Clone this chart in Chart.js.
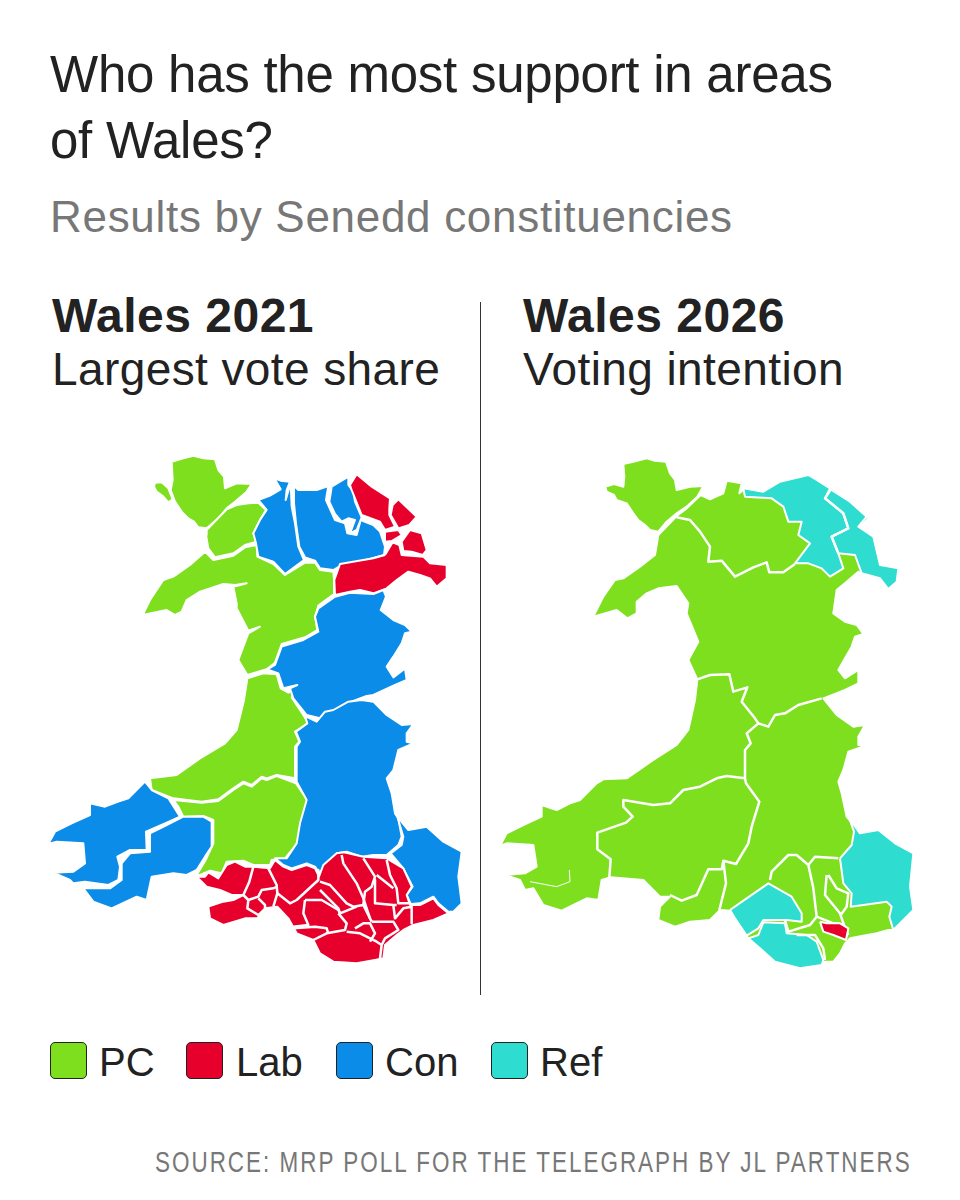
<!DOCTYPE html>
<html>
<head>
<meta charset="utf-8">
<title>Wales</title>
<script src="https://cdn.jsdelivr.net/npm/chart.js@4"></script>
<style>
  html, body { margin: 0; padding: 0; background: #fff; }
  #page { position: relative; width: 960px; height: 1200px; overflow: hidden; font-family: "Liberation Sans", Arial, sans-serif; color: #222; }
  #page span, #page div { position: absolute; white-space: nowrap; }
  canvas { position: absolute; top: 400px; }
  #mapLeft { left: 0; }
  #mapRight { left: 480px; }
  .title { font-size: 51px; line-height: 60px; left: 50px; letter-spacing: -0.25px; }
  .sub { font-size: 44px; line-height: 50px; left: 50px; top: 192px; color: #777; letter-spacing: 0.7px; }
  .head { font-size: 48px; line-height: 50px; font-weight: bold; top: 291px; letter-spacing: 0.5px; }
  .desc { font-size: 46px; line-height: 50px; top: 344px; letter-spacing: 0.4px; }
  .swatch { width: 35px; height: 35px; top: 1042px; border: 1.5px solid #222; border-radius: 5px; }
  .key { font-size: 40px; line-height: 44px; top: 1040px; }
  #source { right: 48px; top: 1146px; font-size: 29px; line-height: 32px; letter-spacing: 2.6px; color: #777; transform: scaleX(0.774); transform-origin: right center; }
  #divider { left: 479.5px; top: 302px; width: 1.5px; height: 693px; background: #333; }
</style>
</head>
<body>
<div id="page">
  <span class="title" style="top:45px">Who has the most support in areas</span>
  <span class="title" style="top:111px">of Wales?</span>
  <span class="sub">Results by Senedd constituencies</span>
  <span class="head" style="left:52px">Wales 2021</span>
  <span class="desc" style="left:52px">Largest vote share</span>
  <span class="head" style="left:523px">Wales 2026</span>
  <span class="desc" style="left:523px">Voting intention</span>
  <canvas id="mapLeft" width="480" height="600"></canvas>
  <canvas id="mapRight" width="480" height="600"></canvas>
  <div id="divider"></div>
  <div id="legend"></div>
  <span id="source">SOURCE: MRP POLL FOR THE TELEGRAPH BY JL PARTNERS</span>
</div>
<script>
const parties = ['PC', 'Lab', 'Con', 'Ref'];
const partyColours = ['#7ddf1e', '#e8002d', '#0a8ce8', '#2edcd0'];

// outlines, flat x,y pairs in map units (1/3 of a pixel)
// 2021 map
const lAnglesey = [395,65, 430,55, 460,47, 490,55, 525,58, 535,90, 552,110, 555,145, 590,130, 635,132, 620,155, 585,185, 560,205, 535,235, 500,265, 475,262, 462,245, 445,235, 425,215, 405,185, 392,150, 398,120];
const lHoly = [345,128, 365,127, 385,145, 398,178, 385,187, 370,170, 350,155, 342,140];
const lBardsey = [287,550, 295,537, 296,547];
const lArfon = [498,285, 500,270, 560,208, 590,195, 625,190, 655,188, 678,210, 660,240, 640,280, 650,305, 615,315, 580,340, 525,352, 505,325];
const lDwyfor = [495,335, 520,360, 580,347, 615,322, 650,315, 652,350, 700,372, 735,405, 795,368, 825,368, 840,390, 880,395, 882,420, 882,462, 835,497, 825,530, 832,570, 795,592, 725,612, 705,668, 680,688, 622,705, 595,660, 610,620, 625,580, 660,560, 625,572, 590,505, 590,490, 580,440, 620,430, 585,435, 550,432, 480,455, 440,480, 425,515, 405,525, 380,510, 308,525, 330,480, 370,420, 400,410, 450,375];
const lCeredigion = [622,715, 670,700, 710,703, 722,745, 745,758, 768,745, 755,772, 790,825, 805,850, 765,875, 778,905, 765,920, 765,1015, 710,1005, 680,1015, 665,1010, 635,1035, 610,1025, 580,1045, 535,1078, 485,1085, 400,1075, 335,1050, 330,1015, 410,1005, 480,955, 555,910, 590,870, 612,780];
const lCarmEast = [400,1080, 485,1088, 535,1083, 580,1050, 610,1030, 635,1040, 665,1015, 680,1020, 710,1008, 768,1030, 802,1080, 782,1150, 772,1210, 735,1255, 695,1260, 690,1275, 640,1275, 610,1262, 560,1265, 545,1300, 510,1292, 480,1305, 470,1305, 497,1260, 520,1210, 520,1140, 490,1128, 430,1130, 415,1100];
const lAberconwy = [655,180, 690,167, 722,148, 703,115, 722,122, 750,125, 740,150, 737,180, 752,130, 755,200, 765,250, 775,320, 792,360, 735,402, 700,365, 655,350, 648,310, 640,280, 660,240, 680,210];
const lClwydWest = [762,138, 775,150, 830,150, 865,138, 858,180, 885,240, 915,250, 922,280, 950,285, 962,240, 1000,255, 1020,275, 1035,320, 1032,345, 960,365, 905,375, 880,390, 840,385, 825,362, 795,352, 778,320, 768,250, 762,190];
const lValeWest = [875,140, 925,110, 925,135, 940,155, 945,185, 965,232, 950,270, 930,280, 945,240, 925,235, 905,245, 885,222, 868,185, 872,160];
const lMontgomery = [835,505, 885,470, 930,458, 1000,462, 1030,450, 1038,470, 1022,510, 1060,540, 1095,555, 1115,575, 1095,580, 1085,610, 1060,650, 1040,680, 1060,712, 1095,685, 1100,720, 1065,735, 1000,765, 980,768, 920,790, 880,815, 840,835, 800,825, 760,775, 750,745, 772,735, 730,745, 715,700, 682,688, 705,675, 725,620, 790,600, 835,575, 825,530];
const lBrecon = [795,828, 830,845, 855,815, 880,810, 925,785, 965,780, 1000,785, 1040,825, 1085,855, 1120,852, 1100,880, 1100,905, 1120,910, 1075,930, 1060,990, 1040,1015, 1055,1060, 1065,1120, 1075,1135, 1085,1190, 1075,1215, 1040,1245, 1000,1245, 965,1250, 920,1235, 890,1240, 860,1270, 838,1300, 825,1280, 800,1270, 755,1285, 730,1275, 705,1255, 740,1255, 770,1210, 780,1150, 800,1080, 770,1025, 770,920, 780,905, 768,875, 802,850];
const lPreseli = [315,1025, 335,1050, 385,1075, 420,1130, 375,1150, 318,1175, 320,1230, 270,1230, 232,1250, 240,1280, 235,1320, 205,1335, 135,1325, 100,1330, 90,1320, 40,1298, 100,1295, 135,1270, 130,1210, 50,1205, 25,1212, 45,1175, 95,1150, 150,1125, 150,1090, 195,1100, 235,1085, 265,1075];
const lCarmWest = [330,1180, 380,1155, 430,1130, 490,1130, 515,1145, 515,1220, 495,1250, 470,1290, 440,1305, 400,1300, 335,1310, 320,1380, 290,1370, 215,1405, 160,1385, 130,1345, 210,1345, 245,1320, 245,1270, 270,1240, 330,1235];
const lMonmouth = [1052,1240, 1085,1215, 1090,1190, 1072,1130, 1105,1170, 1160,1160, 1210,1205, 1265,1235, 1255,1310, 1265,1390, 1240,1415, 1225,1415, 1195,1390, 1180,1370, 1140,1390, 1112,1392, 1100,1365, 1118,1340, 1090,1285];
const lValeEast = [930,135, 950,103, 995,140, 1050,175, 1048,205, 1048,225, 1065,260, 1035,270, 1020,245, 965,225, 945,175, 935,150];
const lDelyn = [1058,195, 1075,178, 1130,230, 1108,255, 1075,265, 1052,225];
const lAlyn = [1035,275, 1075,270, 1085,285, 1055,303, 1035,305];
const lWrexham = [1085,305, 1110,270, 1145,280, 1160,330, 1148,345, 1115,335, 1090,333];
const lClwydSouth = [1035,345, 1058,307, 1078,315, 1085,345, 1150,350, 1170,370, 1220,375, 1220,415, 1190,440, 1170,415, 1140,405, 1105,395, 1070,420, 1040,445, 1000,460, 960,450, 930,455, 885,465, 883,420, 900,372, 1000,355];
const lSouth = [470,1310, 495,1310, 505,1297, 535,1315, 560,1275, 585,1265, 615,1280, 640,1280, 690,1285, 705,1260, 730,1280, 755,1290, 800,1275, 825,1285, 837,1310, 850,1275, 890,1240, 912,1237, 970,1250, 1040,1255, 1090,1285, 1115,1340, 1100,1365, 1110,1395, 1140,1395, 1180,1375, 1195,1395, 1225,1420, 1180,1440, 1120,1455, 1090,1470, 1070,1485, 1035,1515, 1030,1555, 1005,1560, 950,1570, 880,1565, 840,1540, 820,1500, 770,1480, 745,1435, 712,1400, 675,1405, 655,1425, 655,1435, 615,1435, 550,1455, 510,1435, 505,1400, 550,1385, 580,1380, 610,1365, 575,1365, 540,1350, 500,1340];

// white constituency lines inside the red block
const lLines = [
    [640,1280, 628,1325, 610,1365, 625,1380, 622,1405, 655,1425],
    [625,1380, 655,1370, 665,1350, 700,1345, 712,1340],
    [655,1375, 675,1395, 675,1405],
    [685,1285, 710,1335, 712,1360, 700,1400],
    [712,1360, 750,1390, 770,1380, 835,1320],
    [835,1290, 835,1320],
    [840,1325, 870,1335, 920,1390, 940,1400, 970,1395, 990,1435, 995,1445],
    [840,1350, 895,1405, 900,1420],
    [905,1245, 910,1270, 950,1330, 970,1375, 990,1435],
    [970,1255, 1005,1310, 995,1340, 975,1355, 970,1395],
    [1040,1260, 1050,1305, 1070,1345, 1075,1390, 1110,1390],
    [1010,1305, 1060,1345],
    [1005,1320, 1005,1390, 1060,1395, 1070,1395],
    [795,1380, 845,1380, 895,1410, 900,1420, 950,1400],
    [795,1380, 790,1420, 805,1455, 760,1460],
    [895,1420, 920,1450, 915,1470, 860,1480, 820,1500],
    [760,1465, 825,1460, 860,1465, 865,1480],
    [920,1475, 960,1480, 1010,1505, 1025,1515, 1020,1555],
    [945,1465, 970,1450, 990,1450, 1005,1480, 990,1505],
    [995,1445, 1060,1445, 1075,1470, 1035,1495, 1025,1515],
    [1060,1395, 1065,1435, 1090,1405, 1115,1400, 1115,1450]
];

// 2026 map
const rAnglesey = [400,72, 430,65, 470,55, 495,62, 528,65, 540,100, 555,120, 560,150, 600,140, 640,138, 622,170, 590,200, 560,220, 530,245, 505,275, 480,270, 465,255, 445,240, 430,220, 410,190, 380,180, 372,165, 350,155, 345,140, 372,132, 400,140, 403,110];
const rBardsey = [293,558, 300,545, 302,555];
const rMainland = [505,285, 560,228, 590,205, 632,165, 660,178, 700,160, 710,122, 755,130, 748,160, 765,145, 830,155, 880,125, 955,105, 985,125, 1010,135, 1035,150, 1085,190, 1135,235, 1110,260, 1150,285, 1170,375, 1225,385, 1225,420, 1195,447, 1170,415, 1118,405, 1105,395, 1070,425, 1040,450, 1030,520, 1065,545, 1100,555, 1120,582, 1095,590, 1085,620, 1065,655, 1045,690, 1065,715, 1105,690, 1105,730, 1065,750, 1000,775, 1040,825, 1090,860, 1125,855, 1105,890, 1105,915, 1125,918, 1075,935, 1060,990, 1045,1025, 1055,1060, 1070,1130, 1110,1180, 1165,1170, 1215,1210, 1270,1240, 1260,1340, 1270,1410, 1210,1470, 1195,1470, 1160,1480, 1080,1495, 1065,1510, 1050,1540, 1030,1565, 1005,1565, 995,1575, 930,1585, 855,1565, 810,1525, 775,1495, 735,1435, 720,1412, 690,1410, 660,1440, 600,1445, 555,1460, 505,1440, 510,1400, 540,1370, 510,1370, 460,1320, 362,1312, 335,1320, 325,1380, 290,1375, 215,1412, 160,1395, 130,1345, 105,1350, 90,1320, 45,1305, 105,1300, 140,1280, 130,1215, 50,1210, 30,1218, 50,1180, 100,1155, 155,1130, 155,1095, 200,1110, 240,1090, 270,1080, 320,1030, 340,1018, 410,1015, 490,960, 560,915, 595,870, 615,780, 622,718, 595,660, 625,605, 590,520, 595,490, 560,438, 505,445, 470,460, 440,485, 440,520, 412,535, 380,510, 310,530, 340,470, 375,420, 400,415, 450,380, 495,345];
const rClwyd = [760,145, 820,155, 870,125, 955,105, 980,120, 1020,145, 1005,175, 1060,220, 1075,265, 1025,290, 1045,340, 1060,385, 1020,410, 995,385, 955,370, 915,370, 960,310, 925,285, 935,245, 895,245, 880,200, 845,175, 765,170];
const rFlint = [1022,148, 1080,185, 1130,230, 1105,260, 1150,290, 1170,375, 1225,385, 1220,425, 1195,447, 1170,415, 1115,400, 1095,345, 1045,340, 1025,290, 1075,265, 1060,220, 1005,175];
const rBridgend = [720,1410, 770,1375, 835,1330, 905,1370, 935,1420, 935,1445, 890,1440, 820,1440, 805,1465, 770,1487, 735,1435];
const rVale = [775,1495, 805,1485, 820,1447, 885,1450, 890,1480, 950,1485, 980,1505, 1000,1560, 995,1575, 930,1585, 855,1565, 810,1525];
const rMonmouth = [1050,1255, 1085,1215, 1092,1175, 1078,1135, 1110,1180, 1165,1170, 1215,1210, 1270,1240, 1260,1340, 1270,1410, 1210,1470, 1198,1430, 1205,1400, 1190,1385, 1082,1400, 1085,1360, 1060,1330];
const rCardiff = [990,1445, 1010,1450, 1050,1450, 1075,1465, 1068,1500, 1030,1485, 1000,1475];

// white constituency lines between the areas
const rLines = [
    [560,232, 600,240, 630,275, 660,320, 655,365, 695,362, 735,410, 790,382, 830,367, 838,397, 880,397, 915,372],
    [622,718, 660,705, 718,703, 730,755, 772,742, 755,785, 795,835, 805,850, 770,880, 782,910, 765,930, 765,1015, 768,1030, 808,1085, 785,1160, 775,1210, 738,1272, 700,1262, 695,1290],
    [805,850, 835,860, 855,825, 885,820, 925,795, 995,775],
    [765,1015, 710,1008, 680,1015, 630,1040, 580,1050, 540,1090, 490,1095, 400,1080, 400,1100, 428,1130, 408,1148, 322,1178, 322,1228, 362,1258, 358,1312],
    [695,1288, 655,1288, 620,1365, 575,1382, 540,1365],
    [700,1262, 708,1330, 688,1410],
    [840,1320, 845,1295, 895,1245, 920,1245, 955,1275, 970,1345, 980,1430, 960,1455, 895,1475, 885,1440],
    [955,1275, 975,1250, 1045,1255],
    [1010,1305, 1005,1365, 1050,1420, 1062,1455],
    [1015,1305, 1040,1345, 1075,1360, 1070,1400, 1052,1425],
    [980,1430, 1030,1450, 1062,1455, 1075,1485],
    [920,1485, 975,1485, 1000,1525, 1005,1560],
    [1022,148, 1005,175, 1060,220, 1075,265, 1025,290, 1045,340]
];
const rMilford = [120,1325, 200,1340, 240,1325, 238,1290];

const leftPC = [lAnglesey, lHoly, lBardsey, lArfon, lDwyfor, lCeredigion, lCarmEast];
const leftCon = [lAberconwy, lClwydWest, lValeWest, lMontgomery, lBrecon, lPreseli, lCarmWest, lMonmouth];
const leftLab = [lValeEast, lDelyn, lAlyn, lWrexham, lClwydSouth, lSouth];
const rightPC = [rAnglesey, rBardsey, rMainland];
const rightRef = [rClwyd, rFlint, rBridgend, rVale, rMonmouth];
const rightLab = [rCardiff];

function toPoints(flat) {
    const points = [];
    for (let i = 0; i < flat.length; i += 2) {
        points.push({ x: flat[i], y: flat[i + 1] });
    }
    return points;
}

function regionDatasets(regions, party) {
    return regions.map(function (flat) {
        const points = toPoints(flat);
        points.push(points[0]);
        return {
            data: points,
            showLine: true,
            fill: 'shape',
            backgroundColor: partyColours[parties.indexOf(party)],
            borderColor: '#ffffff',
            borderWidth: 2,
            borderJoinStyle: 'round',
            tension: 0,
            pointRadius: 0
        };
    });
}

function lineDatasets(lines, width) {
    return lines.map(function (flat) {
        return {
            data: toPoints(flat),
            showLine: true,
            borderColor: '#ffffff',
            borderWidth: width,
            borderJoinStyle: 'round',
            tension: 0,
            pointRadius: 0
        };
    });
}

function drawMap(canvasId, layers, xMin) {
    // chart.js paints dataset 0 last, so the list goes top layer first
    new Chart(document.getElementById(canvasId).getContext('2d'), {
        type: 'scatter',
        data: { datasets: layers.reverse() },
        options: {
            responsive: false,
            animation: false,
            layout: { padding: 0 },
            plugins: { legend: { display: false }, tooltip: { enabled: false } },
            scales: {
                x: { type: 'linear', display: false, min: xMin, max: xMin + 1440 },
                y: { type: 'linear', display: false, reverse: true, min: -120, max: 1680 }
            }
        }
    });
}

drawMap('mapLeft', [].concat(
    regionDatasets(leftPC, 'PC'),
    regionDatasets(leftCon, 'Con'),
    regionDatasets(leftLab, 'Lab'),
    lineDatasets(lLines, 2.5)
), -120);

drawMap('mapRight', [].concat(
    regionDatasets(rightPC, 'PC'),
    lineDatasets([rMilford], 1),
    regionDatasets(rightRef, 'Ref'),
    lineDatasets(rLines, 2.5),
    regionDatasets(rightLab, 'Lab')
), -30);

// legend
const legendSwatchX = [50, 186, 336, 491];
const legendTextX = [99, 236, 385, 540];
const legend = document.getElementById('legend');
parties.forEach(function (party, i) {
    const swatch = document.createElement('div');
    swatch.className = 'swatch';
    swatch.style.left = legendSwatchX[i] + 'px';
    swatch.style.background = partyColours[i];
    legend.appendChild(swatch);
    const label = document.createElement('span');
    label.className = 'key';
    label.style.left = legendTextX[i] + 'px';
    label.textContent = party;
    legend.appendChild(label);
});
</script>
</body>
</html>
